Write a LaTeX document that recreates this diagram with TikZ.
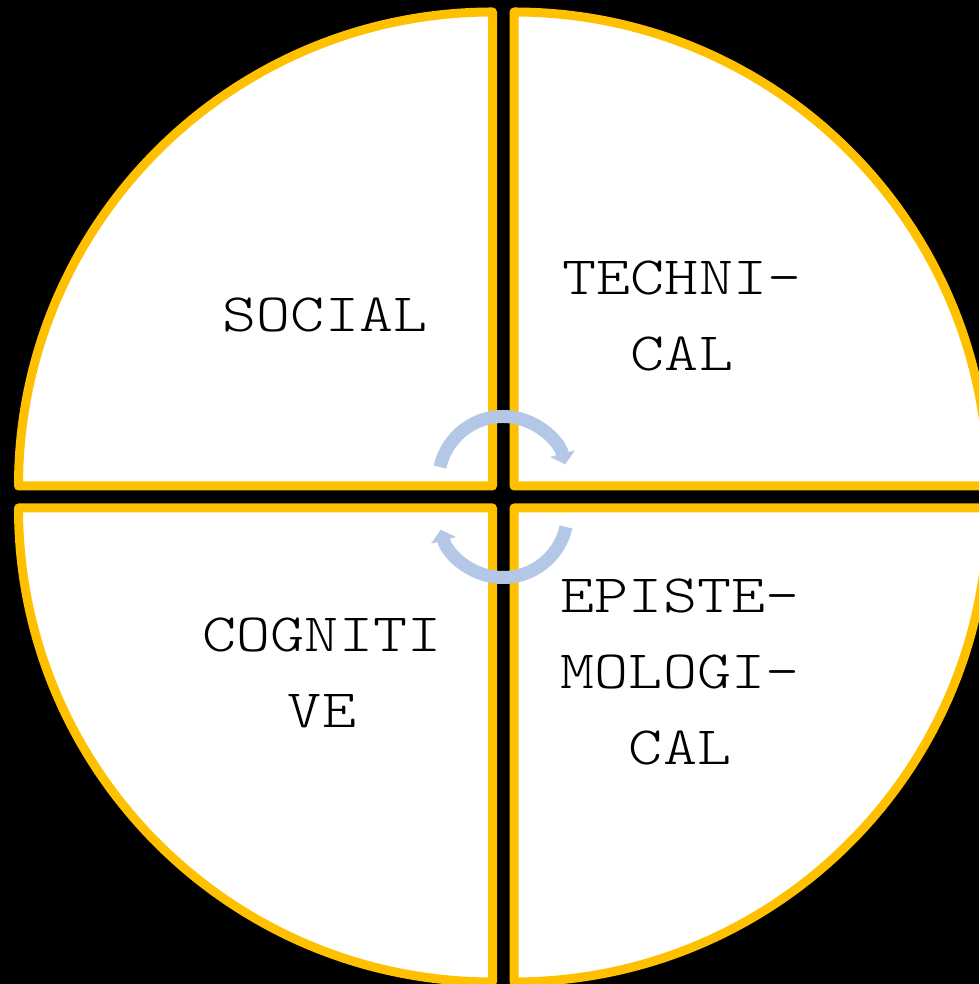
\documentclass[tikz,border=0pt]{standalone}
\usepackage{fontspec}
\newfontfamily\typerfont{lmmonolt10-regular.otf}[FakeStretch=1.2]
\usetikzlibrary{arrows.meta}
\definecolor{Gold}{HTML}{FFC000}
\definecolor{LSteel}{HTML}{B4C7E7}
\NewDocumentCommand{\Quarter}{O{(0,0)}m}{
    \begin{scope}[shift={#1}]
    \filldraw[Gold, line width=9pt, fill=white, line join=round]
        (0,0) -- (#2:474) arc[start angle=#2, end angle=#2+90, radius=474] -- cycle;
    \end{scope}
}
\newcommand{\Canvas}{
\useasboundingbox (0,0) rectangle (979,984);
\fill[black] (0,0) rectangle (979,984);
\clip (0,0) rectangle (979,984);
\coordinate (corner-nw) at (492.5,498);
\coordinate (corner-ne) at (514,498);
\coordinate (corner-sw) at (492.5,476);
\coordinate (corner-se) at (514,476);
\coordinate (hub-top) at (503,503);
\coordinate (hub-bottom) at (503,471);
}

\begin{document}
\begin{tikzpicture}[x=1pt, y=1pt,
    word/.style={font=\typerfont\fontsize{54}{76}\selectfont, align=center, text=black},
    turn/.style={LSteel, line width=13pt, -{Triangle[length=11pt, width=25pt]}}]
\Canvas
\Quarter[(corner-nw)]{90}
\Quarter[(corner-ne)]{0}
\Quarter[(corner-sw)]{180}
\Quarter[(corner-se)]{270}

% turning arrows in the middle
\draw[turn] ([shift={(167.5:64.5)}]hub-top) arc[start angle=167.5, end angle=15, radius=64.5];
\draw[turn] ([shift={(-12.5:64.5)}]hub-bottom) arc[start angle=-12.5, end angle=-165, radius=64.5];

\node[word] (social) at (325,669) {SOCIAL};
\node[word] (technical) at (682,668) {TECHNI-\\CAL};
\node[word] (cognitive) at (322,311) {COGNITI\\VE};
\node[word] (epistemological) at (680,312) {EPISTE-\\MOLOGI-\\CAL};
\end{tikzpicture}
\end{document}
